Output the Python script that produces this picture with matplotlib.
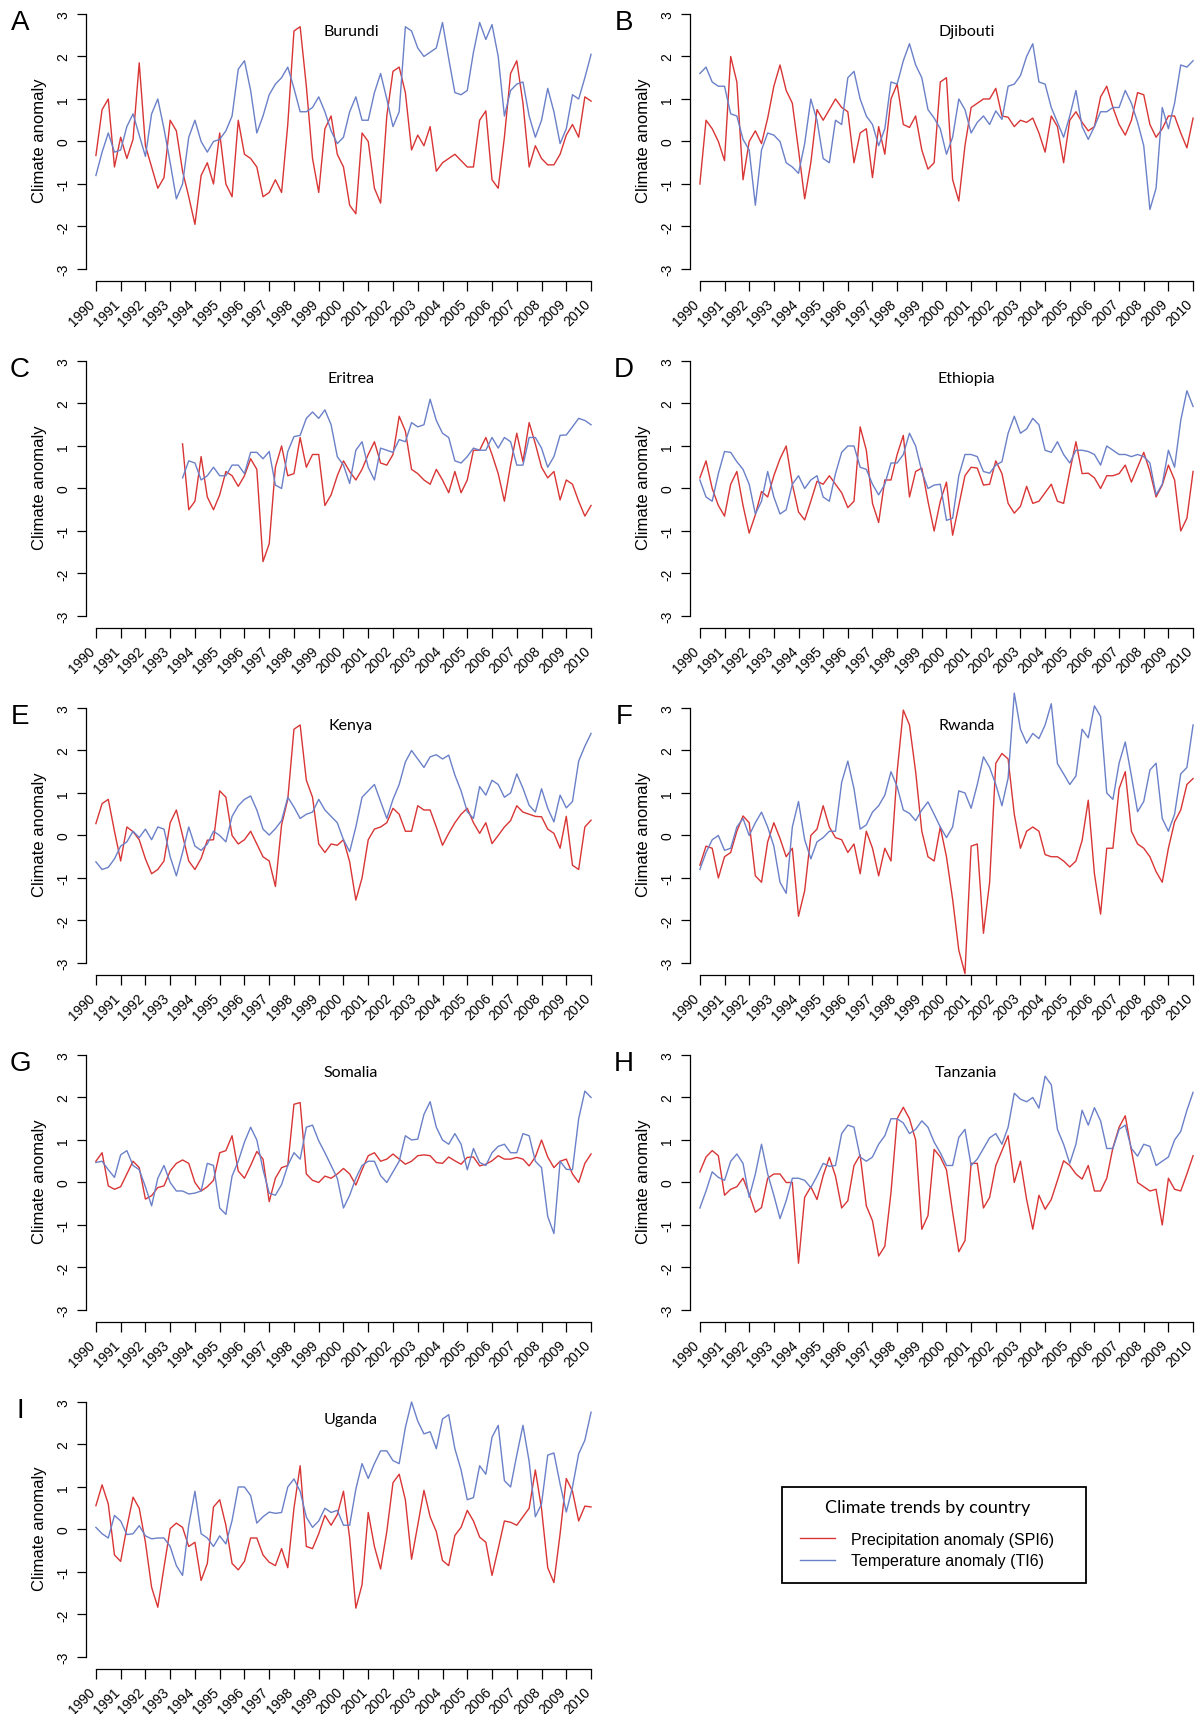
import numpy as np
import matplotlib
matplotlib.use("Agg")
import matplotlib.pyplot as plt
import matplotlib.transforms as mtransforms
from matplotlib.lines import Line2D
from matplotlib.patches import Rectangle

plt.rcParams['font.family'] = ['Liberation Sans', 'DejaVu Sans']

# quarterly values, 1990.00 .. 2010.00
t = 1990 + np.arange(81) / 4.0
year_ticks = list(range(1990, 2011))
y_ticks = [-3, -2, -1, 0, 1, 2, 3]

countries = ["Burundi", "Djibouti", "Eritrea", "Ethiopia", "Kenya",
             "Rwanda", "Somalia", "Tanzania", "Uganda"]
letters = ["A", "B", "C", "D", "E", "F", "G", "H", "I"]

# precipitation anomaly (SPI6)
spi_burundi = [-0.33, 0.75, 1.0, -0.6,  0.1, -0.4, 0.05, 1.85,  -0.1, -0.6, -1.1, -0.85,
               0.5, 0.25, -0.7, -1.3,  -1.95, -0.8, -0.5, -1.0,  0.2, -1.0, -1.3, 0.5,
               -0.3, -0.4, -0.6, -1.3,  -1.2, -0.9, -1.2, 0.4,  2.6, 2.7, 1.3, -0.4,
               -1.2, 0.3, 0.6, -0.3,  -0.6, -1.5, -1.7, 0.2,  0.0, -1.1, -1.45, 0.6,
               1.65, 1.75, 1.15, -0.2,  0.15, -0.1, 0.35, -0.7,  -0.5, -0.4, -0.3, -0.45,
               -0.6, -0.6, 0.5, 0.72,  -0.9, -1.1, 0.1, 1.6,  1.9, 0.9, -0.6, -0.1,
               -0.4, -0.55, -0.55, -0.3,  0.15, 0.4, 0.1, 1.05,  0.95]
spi_djibouti = [-1.0, 0.5, 0.3, 0.0,  -0.45, 2.0, 1.4, -0.9,  0.0, 0.25, -0.05, 0.55,
                1.3, 1.8, 1.2, 0.9,  -0.2, -1.35, -0.5, 0.75,  0.5, 0.75, 1.0, 0.8,
                0.7, -0.5, 0.2, 0.3,  -0.85, 0.35, -0.3, 1.0,  1.35, 0.4, 0.33, 0.6,
                -0.2, -0.65, -0.5, 1.4,  1.5, -0.9, -1.4, -0.1,  0.8, 0.9, 1.0, 1.0,
                1.25, 0.6, 0.57, 0.35,  0.5, 0.45, 0.55, 0.2,  -0.25, 0.6, 0.35, -0.5,
                0.5, 0.7, 0.45, 0.25,  0.35, 1.05, 1.3, 0.8,  0.4, 0.15, 0.5, 1.15,
                1.1, 0.4, 0.1, 0.3,  0.6, 0.6, 0.2, -0.15,  0.55]
spi_eritrea = [np.nan] * 14 + [
    1.05, -0.5,  -0.3, 0.75, -0.2, -0.5,  -0.15, 0.4, 0.3, 0.05,
    0.3, 0.7, 0.45, -1.72,  -1.3, 0.5, 1.0, 0.3,  0.35, 1.2, 0.5, 0.8,
    0.8, -0.4, -0.15, 0.3,  0.65, 0.4, 0.2, 0.45,  0.8, 1.1, 0.6, 0.55,
    0.8, 1.7, 1.35, 0.45,  0.35, 0.2, 0.1, 0.45,  0.2, -0.1, 0.4, -0.1,
    0.2, 0.9, 0.9, 1.2,  0.8, 0.35, -0.3, 0.55,  1.3, 0.63, 1.55, 1.05,
    0.5, 0.25, 0.4, -0.27,  0.2, 0.1, -0.3, -0.65,  -0.4]
spi_ethiopia = [0.25, 0.65, 0.0, -0.4,  -0.65, 0.1, 0.4, -0.4,  -1.05, -0.62, -0.07, -0.2,
                0.3, 0.7, 1.0, 0.1,  -0.55, -0.74, -0.3, 0.17,  0.1, 0.3, 0.1, -0.1,
                -0.45, -0.3, 1.45, 0.9,  -0.35, -0.8, 0.2, 0.2,  0.8, 1.25, -0.2, 0.4,
                0.48, -0.3, -1.0, -0.3,  0.15, -1.1, -0.4, 0.3,  0.5, 0.48, 0.08, 0.1,
                0.65, 0.35, -0.35, -0.58,  -0.42, 0.05, -0.35, -0.3,  -0.1, 0.1, -0.3, -0.35,
                0.4, 1.1, 0.35, 0.36,  0.25, 0.0, 0.3, 0.3,  0.35, 0.55, 0.15, 0.5,
                0.85, 0.4, -0.2, 0.08,  0.55, 0.2, -1.0, -0.7,  0.4]
spi_kenya = [0.28, 0.75, 0.85, 0.1,  -0.6, 0.2, 0.09, -0.1,  -0.55, -0.9, -0.8, -0.6,
             0.3, 0.6, 0.0, -0.6,  -0.8, -0.54, -0.11, -0.1,  1.05, 0.9, 0.0, -0.2,
             -0.1, 0.1, -0.2, -0.5,  -0.6, -1.2, 0.25, 0.85,  2.5, 2.6, 1.3, 0.9,
             -0.2, -0.4, -0.2, -0.23,  -0.1, -0.62, -1.52, -1.0,  -0.1, 0.15, 0.2, 0.3,
             0.64, 0.5, 0.1, 0.1,  0.7, 0.6, 0.6, 0.2,  -0.23, 0.05, 0.3, 0.5,
             0.64, 0.3, 0.05, 0.3,  -0.19, 0.0, 0.2, 0.35,  0.7, 0.55, 0.5, 0.45,
             0.44, 0.15, 0.05, -0.3,  0.45, -0.7, -0.8, 0.2,  0.36]
spi_rwanda = [-0.7, -0.25, -0.3, -1.0,  -0.5, -0.4, 0.1, 0.46,  0.3, -0.95, -1.1, -0.15,
              0.3, -0.07, -0.5, -0.3,  -1.9, -1.3, 0.0, 0.15,  0.7, 0.2, -0.05, -0.1,
              -0.4, -0.2, -0.9, 0.1,  -0.3, -0.95, -0.3, -0.6,  1.5, 2.95, 2.6, 1.5,
              0.1, -0.5, -0.6, 0.2,  -0.5, -1.5, -2.7, -3.25,  -0.25, -0.2, -2.3, -1.1,
              1.7, 1.93, 1.8, 0.5,  -0.3, 0.1, 0.2, 0.1,  -0.45, -0.5, -0.5, -0.6,
              -0.74, -0.6, -0.12, 0.83,  -0.9, -1.85, -0.3, -0.3,  1.1, 1.5, 0.1, -0.2,
              -0.3, -0.5, -0.85, -1.1,  -0.3, 0.32, 0.6, 1.2,  1.34]
spi_somalia = [0.5, 0.7, -0.08, -0.16,  -0.1, 0.2, 0.5, 0.35,  -0.39, -0.31, -0.12, -0.08,
               0.27, 0.45, 0.53, 0.45,  0.0, -0.2, -0.1, 0.05,  0.7, 0.75, 1.1, 0.27,
               0.1, 0.4, 0.73, 0.55,  -0.45, 0.1, 0.35, 0.4,  1.84, 1.88, 0.2, 0.05,
               0.0, 0.15, 0.1, 0.2,  0.33, 0.2, -0.06, 0.3,  0.63, 0.7, 0.5, 0.55,
               0.67, 0.55, 0.43, 0.5,  0.63, 0.65, 0.63, 0.47,  0.45, 0.6, 0.51, 0.43,
               0.59, 0.6, 0.39, 0.43,  0.51, 0.63, 0.55, 0.55,  0.59, 0.55, 0.39, 0.6,
               1.0, 0.6, 0.35, 0.5,  0.55, 0.2, 0.0, 0.45,  0.67]
spi_tanzania = [0.25, 0.6, 0.75, 0.63,  -0.3, -0.16, -0.1, 0.1,  -0.27, -0.7, -0.59, 0.1,
                0.2, 0.2, 0.0, 0.0,  -1.9, -0.35, -0.1, -0.4,  0.16, 0.59, 0.15, -0.6,
                -0.43, 0.4, 0.65, -0.55,  -0.9, -1.73, -1.5, -0.24,  1.5, 1.77, 1.5, 1.0,
                -1.1, -0.78, 0.78, 0.6,  0.3, -0.7, -1.63, -1.37,  0.45, 0.45, -0.6, -0.35,
                0.4, 0.75, 1.1, 0.0,  0.5, -0.4, -1.1, -0.3,  -0.63, -0.4, 0.05, 0.51,
                0.4, 0.2, 0.08, 0.4,  -0.2, -0.2, 0.1, 0.82,  1.3, 1.57, 0.75, 0.0,
                -0.1, -0.2, -0.16, -1.0,  0.1, -0.16, -0.2, 0.2,  0.63]
spi_uganda = [0.56, 1.05, 0.6, -0.6,  -0.75, 0.05, 0.76, 0.5,  -0.3, -1.36, -1.83, -0.89,
              0.02, 0.15, 0.05, -0.4,  -0.3, -1.2, -0.8, 0.53,  0.7, 0.1, -0.8, -0.95,
              -0.75, -0.2, -0.2, -0.6,  -0.77, -0.85, -0.45, -0.9,  0.5, 1.5, -0.4, -0.45,
              -0.1, 0.33, 0.1, 0.35,  0.9, -0.2, -1.85, -1.3,  0.4, -0.4, -0.93, -0.05,
              1.1, 1.3, 0.7, -0.7,  0.1, 0.92, 0.3, -0.05,  -0.73, -0.85, -0.14, 0.05,
              0.45, 0.2, -0.18, -0.3,  -1.08, -0.45, 0.2, 0.17,  0.1, 0.3, 0.5, 1.4,
              0.49, -0.9, -1.25, -0.1,  1.2, 0.9, 0.2, 0.55,  0.53]

# temperature anomaly (TI6)
ti_burundi = [-0.8, -0.25, 0.2, -0.25,  -0.2, 0.35, 0.65, 0.15,  -0.35, 0.65, 1.0, 0.3,
              -0.5, -1.35, -1.0, 0.1,  0.5, 0.0, -0.25, 0.0,  0.05, 0.25, 0.6, 1.7,
              1.9, 1.2, 0.2, 0.6,  1.1, 1.35, 1.5, 1.75,  1.25, 0.7, 0.7, 0.8,
              1.05, 0.7, 0.25, -0.05,  0.1, 0.7, 1.05, 0.5,  0.5, 1.15, 1.6, 1.0,
              0.35, 0.7, 2.7, 2.6,  2.2, 2.0, 2.1, 2.2,  2.8, 1.95, 1.15, 1.1,
              1.2, 2.1, 2.8, 2.4,  2.75, 2.0, 0.6, 1.2,  1.35, 1.4, 0.6, 0.1,
              0.5, 1.25, 0.7, -0.05,  0.3, 1.1, 1.0, 1.5,  2.05]
ti_djibouti = [1.6, 1.75, 1.4, 1.3,  1.3, 0.65, 0.6, 0.05,  -0.2, -1.5, -0.2, 0.2,
               0.15, 0.0, -0.5, -0.6,  -0.75, -0.05, 1.0, 0.5,  -0.4, -0.5, 0.5, 0.4,
               1.5, 1.65, 1.0, 0.6,  0.4, -0.1, 0.3, 1.4,  1.35, 1.9, 2.3, 1.8,
               1.5, 0.75, 0.55, 0.3,  -0.3, 0.1, 1.0, 0.75,  0.2, 0.45, 0.6, 0.4,
               0.72, 0.52, 1.3, 1.35,  1.55, 2.0, 2.3, 1.4,  1.35, 0.8, 0.45, 0.1,
               0.6, 1.2, 0.35, 0.05,  0.35, 0.7, 0.7, 0.8,  0.8, 1.2, 0.9, 0.45,
               -0.1, -1.6, -1.1, 0.8,  0.3, 0.9, 1.8, 1.75,  1.9]
ti_eritrea = [np.nan] * 14 + [
    0.25, 0.65,  0.6, 0.2, 0.3, 0.5,  0.3, 0.3, 0.55, 0.55,
    0.35, 0.85, 0.85, 0.7,  0.87, 0.08, 0.0, 0.87,  1.22, 1.25, 1.65, 1.8,
    1.65, 1.85, 1.5, 0.75,  0.55, 0.12, 0.9, 1.1,  0.5, 0.2, 0.95, 0.9,
    0.85, 1.15, 1.1, 1.55,  1.45, 1.5, 2.1, 1.6,  1.3, 1.2, 0.65, 0.6,
    0.75, 0.95, 0.9, 0.9,  1.2, 0.95, 1.2, 1.1,  0.55, 0.55, 1.2, 1.2,
    0.95, 0.5, 0.75, 1.25,  1.26, 1.45, 1.65, 1.6,  1.5]
ti_ethiopia = [0.2, -0.2, -0.3, 0.35,  0.87, 0.85, 0.63, 0.45,  0.1, -0.6, -0.3, 0.4,
               -0.2, -0.6, -0.5, 0.1,  0.3, 0.0, 0.2, 0.3,  -0.2, -0.3, 0.35, 0.85,
               1.0, 1.0, 0.5, 0.45,  0.1, -0.15, 0.1, 0.6,  0.6, 0.8, 1.3, 1.0,
               0.4, 0.0, 0.08, 0.1,  -0.75, -0.7, 0.3, 0.8,  0.8, 0.75, 0.4, 0.36,
               0.55, 0.63, 1.3, 1.7,  1.3, 1.4, 1.65, 1.5,  0.9, 0.85, 1.1, 0.8,
               0.6, 0.9, 0.9, 0.87,  0.8, 0.55, 1.0, 0.9,  0.8, 0.8, 0.75, 0.8,
               0.75, 0.6, -0.15, 0.1,  0.9, 0.5, 1.6, 2.3,  1.93]
ti_kenya = [-0.62, -0.8, -0.75, -0.55,  -0.25, -0.15, 0.1, -0.05,  0.15, -0.1, 0.2, 0.15,
            -0.5, -0.95, -0.4, 0.2,  -0.25, -0.35, -0.2, 0.1,  0.0, -0.15, 0.45, 0.7,
            0.85, 0.93, 0.6, 0.15,  0.01, 0.16, 0.35, 0.9,  0.67, 0.4, 0.5, 0.55,
            0.85, 0.6, 0.45, 0.3,  -0.1, -0.38, 0.2, 0.9,  1.05, 1.2, 0.8, 0.4,
            0.85, 1.2, 1.73, 2.0,  1.8, 1.6, 1.85, 1.9,  1.8, 1.89, 1.42, 1.05,
            0.56, 0.4, 1.15, 0.95,  1.3, 1.2, 0.9, 1.0,  1.45, 1.11, 0.71, 0.55,
            1.1, 0.64, 0.32, 0.95,  0.65, 0.8, 1.75, 2.1,  2.4]
ti_rwanda = [-0.8, -0.4, -0.1, 0.0,  -0.35, -0.3, 0.2, 0.4,  0.0, 0.3, 0.55, 0.2,
             -0.25, -1.1, -1.36, 0.2,  0.8, -0.1, -0.55, -0.15,  -0.05, 0.1, 0.1, 1.25,
             1.75, 1.1, 0.15, 0.25,  0.55, 0.7, 0.95, 1.5,  1.15, 0.6, 0.52, 0.35,
             0.6, 0.79, 0.5, 0.2,  -0.05, 0.2, 1.05, 1.0,  0.64, 1.2, 1.85, 1.6,
             1.2, 0.7, 1.35, 3.35,  2.5, 2.17, 2.4, 2.28,  2.6, 3.1, 1.69, 1.45,
             1.2, 1.4, 2.5, 2.3,  3.05, 2.8, 1.0, 0.85,  1.7, 2.2, 1.4, 0.56,
             0.8, 1.54, 1.7, 0.4,  0.1, 0.5, 1.45, 1.6,  2.6]
ti_somalia = [0.47, 0.5, 0.3, 0.12,  0.65, 0.75, 0.4, 0.3,  -0.1, -0.55, 0.1, 0.4,
              0.0, -0.2, -0.2, -0.27,  -0.25, -0.2, 0.45, 0.4,  -0.6, -0.75, 0.15, 0.5,
              0.95, 1.3, 1.0, 0.3,  -0.25, -0.3, -0.05, 0.4,  0.7, 0.55, 1.3, 1.35,
              0.98, 0.7, 0.4, 0.1,  -0.6, -0.3, 0.1, 0.4,  0.5, 0.5, 0.16, 0.0,
              0.25, 0.5, 1.1, 1.0,  1.02, 1.6, 1.9, 1.3,  1.0, 0.9, 1.15, 0.9,
              0.3, 0.8, 0.47, 0.4,  0.7, 0.85, 0.9, 0.7,  0.7, 1.15, 1.1, 0.5,
              0.35, -0.8, -1.2, 0.5,  0.31, 0.3, 1.5, 2.15,  2.0]
ti_tanzania = [-0.6, -0.2, 0.25, 0.12,  0.05, 0.5, 0.67, 0.45,  -0.35, 0.2, 0.9, 0.2,
               -0.3, -0.85, -0.43, 0.1,  0.1, 0.05, -0.12, 0.15,  0.45, 0.38, 0.4, 1.15,
               1.35, 1.3, 0.6, 0.5,  0.6, 0.9, 1.1, 1.5,  1.5, 1.4, 1.15, 1.25,
               1.45, 1.3, 0.95, 0.7,  0.4, 0.4, 1.06, 1.25,  0.4, 0.55, 0.8, 1.05,
               1.15, 0.9, 1.3, 2.1,  1.96, 1.9, 2.0, 1.75,  2.5, 2.3, 1.25, 0.9,
               0.45, 0.9, 1.7, 1.35,  1.76, 1.45, 0.8, 0.8,  1.25, 1.35, 0.8, 0.62,
               0.9, 0.85, 0.4, 0.5,  0.6, 1.0, 1.2, 1.7,  2.12]
ti_uganda = [0.05, -0.1, -0.2, 0.33,  0.2, -0.12, -0.1, 0.09,  -0.15, -0.22, -0.2, -0.2,
             -0.4, -0.85, -1.08, 0.1,  0.9, -0.1, -0.2, -0.4,  -0.15, -0.34, 0.21, 1.0,
             1.0, 0.8, 0.15, 0.3,  0.41, 0.38, 0.4, 1.0,  1.19, 0.9, 0.29, 0.05,
             0.2, 0.5, 0.4, 0.45,  0.1, 0.1, 0.95, 1.55,  1.2, 1.55, 1.85, 1.85,
             1.62, 1.55, 2.4, 3.0,  2.55, 2.25, 2.3, 1.9,  2.6, 2.7, 1.9, 1.4,
             0.7, 0.75, 1.5, 1.3,  2.17, 2.45, 1.15, 1.0,  1.75, 2.45, 1.6, 0.3,
             0.6, 1.75, 1.8, 1.07,  0.41, 1.0, 1.78, 2.1,  2.76]

spi = [spi_burundi, spi_djibouti, spi_eritrea, spi_ethiopia, spi_kenya,
       spi_rwanda, spi_somalia, spi_tanzania, spi_uganda]
ti = [ti_burundi, ti_djibouti, ti_eritrea, ti_ethiopia, ti_kenya,
      ti_rwanda, ti_somalia, ti_tanzania, ti_uganda]

red = '#d93535'
blue = '#6a80c8'

W, H = 1198.0, 1715.0
fig = plt.figure(figsize=(W / 100, H / 100), dpi=100)
shift_left = mtransforms.ScaledTranslation(-8 / 100, 0, fig.dpi_scale_trans)

for i in range(9):
    row, col = i // 2, i % 2
    if col == 0:
        x0, x1 = 86.0, 596.0
    else:
        x0, x1 = 690.0, 1198.0
    top = 0.1 + 347 * row
    bot = 281.9 + 347 * row
    ax = fig.add_axes([x0 / W, 1 - bot / H, (x1 - x0) / W, (bot - top) / H])
    ax.patch.set_alpha(0)

    ax.plot(t, spi[i], color=red, lw=1.0, clip_on=False)
    ax.plot(t, ti[i], color=blue, lw=1.0, clip_on=False)

    ax.set_xlim(1989.6, 2010.2)
    ax.set_ylim(-3.28, 3.35)
    ax.spines['top'].set_visible(False)
    ax.spines['right'].set_visible(False)
    ax.spines['left'].set_bounds(-3, 3)
    ax.spines['bottom'].set_bounds(1990, 2010)
    ax.spines['left'].set_linewidth(0.9)
    ax.spines['bottom'].set_linewidth(0.9)

    ax.tick_params(axis='x', length=7, width=0.9, pad=4, labelsize=10)
    ax.tick_params(axis='y', length=6.5, width=0.9, pad=5, labelsize=10)
    ax.set_xticks(year_ticks)
    ax.set_xticklabels([str(y) for y in year_ticks], rotation=45,
                       ha='right', rotation_mode='anchor')
    ax.set_yticks(y_ticks)
    ax.set_yticklabels([str(v) for v in y_ticks], rotation=90, va='center')
    for lab in ax.get_xticklabels():
        lab.set_transform(lab.get_transform() + shift_left)

    ax.set_ylabel('Climate anomaly', fontsize=12)
    ax.yaxis.set_label_coords(-0.077, 0.5)

    ax.text(2000.3 if col == 0 else 2000.8, 2.6, countries[i], ha='center',
            va='center', fontsize=11.5, family=['Lato', 'DejaVu Sans'])

    fig.text((20 if col == 0 else 624) / W, 1 - (23 + 347 * row) / H, letters[i],
             ha='center', va='center', fontsize=20)

# legend
handles = [Line2D([], [], color=red, lw=1.0), Line2D([], [], color=blue, lw=1.0)]
fig.legend(handles, ['Precipitation anomaly (SPI6)', 'Temperature anomaly (TI6)'],
           loc='center left', bbox_to_anchor=(800 / W, 1 - 1551 / H), frameon=False,
           fontsize=11.5, handlelength=2.2, handletextpad=1.0, borderpad=0,
           borderaxespad=0, labelspacing=0.4)
fig.add_artist(Rectangle((782 / W, 1 - 1584 / H), 304 / W, 96 / H,
                         transform=fig.transFigure, fill=False, ec='black', lw=1.3))
fig.text(928 / W, 1 - 1508 / H, 'Climate trends by country', ha='center', va='center',
         fontsize=13, family=['Lato', 'DejaVu Sans'])

fig.savefig('out.png', dpi=100)
